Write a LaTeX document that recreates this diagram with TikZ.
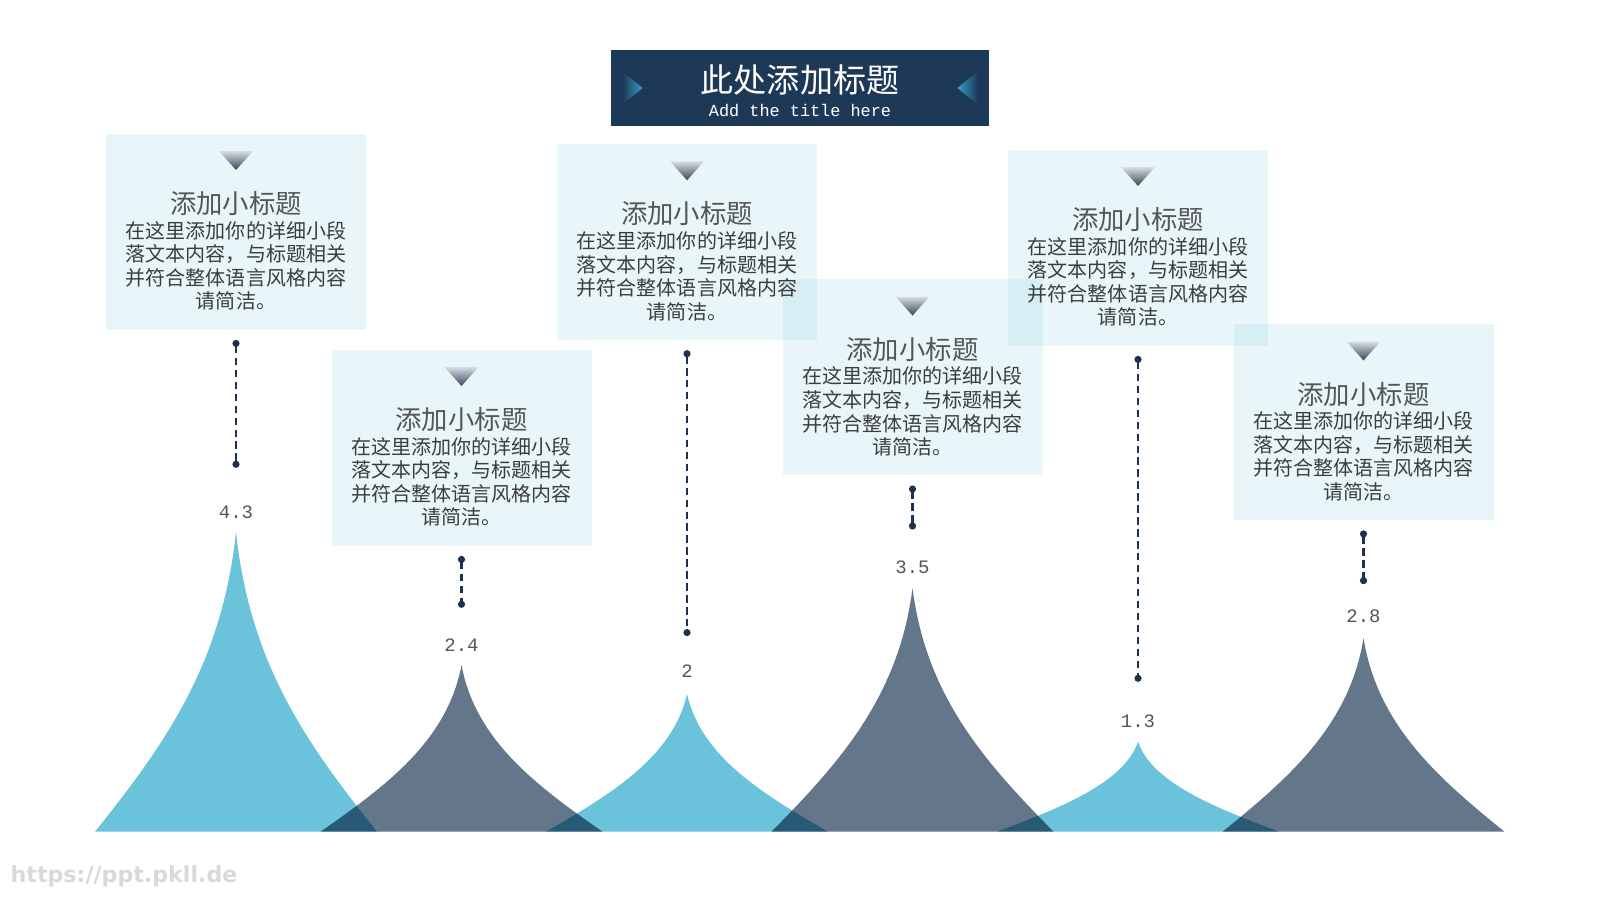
\documentclass[tikz,border=0pt]{standalone}
\usepackage{fontspec}
\setmonofont{Liberation Mono}
\newfontfamily\cjk{Noto Sans CJK SC}
\newfontfamily\webfont{DejaVu Sans}
\usetikzlibrary{arrows.meta,positioning,calc}
\definecolor{TitleNavy}{RGB}{30,57,88}
\definecolor{TitleTeal}{RGB}{52,160,200}
\definecolor{PeakBlue}{RGB}{106,195,218}
\definecolor{PeakSlate}{RGB}{100,118,138}
\definecolor{LinkNavy}{RGB}{30,50,78}
\definecolor{HeadGray}{RGB}{85,85,85}
\definecolor{BodyGray}{RGB}{60,60,60}
\definecolor{MarkDark}{RGB}{55,70,90}
\definecolor{MarkLight}{RGB}{215,222,228}

\begin{document}
\begin{tikzpicture}[>=Latex,
  card/.style={fill=PeakBlue,fill opacity=0.15,minimum width=2.6cm,minimum height=1.96cm,anchor=north,inner sep=0pt},
  cardhead/.style={text=HeadGray,font=\cjk\fontsize{7.5}{9}\selectfont,inner sep=0pt},
  cardbody/.style={text=BodyGray,font=\cjk\fontsize{5.7}{6.7}\selectfont,align=center,inner sep=0pt},
  value/.style={text=HeadGray,font=\ttfamily\fontsize{5.4}{6}\selectfont,inner sep=0pt},
  link/.style={LinkNavy,line width=0.6pt,dash pattern=on 2.1pt off 1.3pt,{Circle[length=2pt]}-{Circle[length=2pt]}},
  peak/.pic={\fill (-1.41,0) .. controls (-0.74,0.28) and (-0.14,0.55) .. (0,1) .. controls (0.14,0.55) and (0.74,0.28) .. (1.41,0) -- cycle;},
  marker/.pic={\shade[top color=MarkLight,bottom color=MarkDark] (-0.17,-0.18) -- (0.17,-0.18) -- (0,-0.37) -- cycle;}]
  \useasboundingbox (0,0) rectangle (16,9);

  % title bar
  \node[fill=TitleNavy,minimum width=3.78cm,minimum height=0.76cm,inner sep=0pt] (titlebar) at (8,8.12) {};
  \node[text=white,font=\cjk\fontsize{9.4}{11}\selectfont,inner sep=0pt] (maintitle) at (8,8.2) {此处添加标题};
  \node[text=white,font=\ttfamily\fontsize{4.8}{6}\selectfont,inner sep=0pt] (subtitle) at (8,7.893) {Add the title here};
  \shade[left color=TitleNavy,right color=TitleTeal] ($(titlebar.west)+(0.123,0.162)$) -- ($(titlebar.west)+(0.323,0)$) -- ($(titlebar.west)+(0.123,-0.162)$) -- cycle;
  \shade[right color=TitleNavy,left color=TitleTeal] ($(titlebar.east)+(-0.123,0.162)$) -- ($(titlebar.east)+(-0.323,0)$) -- ($(titlebar.east)+(-0.123,-0.162)$) -- cycle;

  % peaks
  \begin{scope}[blend mode=multiply]
    \pic[PeakBlue,yscale=3.00] at (2.36,0.683) {peak};
    \pic[PeakSlate,yscale=1.667] at (4.615,0.683) {peak};
    \pic[PeakBlue,yscale=1.377] at (6.87,0.683) {peak};
    \pic[PeakSlate,yscale=2.434] at (9.125,0.683) {peak};
    \pic[PeakBlue,yscale=0.90] at (11.38,0.683) {peak};
    \pic[PeakSlate,yscale=1.937] at (13.635,0.683) {peak};
  \end{scope}

  % values
  \node[value] (val1) at (2.36,3.873) {4.3};
  \node[value] (val2) at (4.615,2.55) {2.4};
  \node[value] (val3) at (6.87,2.286) {2};
  \node[value] (val4) at (9.125,3.327) {3.5};
  \node[value] (val5) at (11.38,1.783) {1.3};
  \node[value] (val6) at (13.635,2.837) {2.8};

  % cards
  \node[card] (card1) at (2.36,7.67) {};
  \node[card] (card2) at (4.615,5.51) {};
  \node[card] (card3) at (6.87,7.567) {};
  \node[card] (card4) at (9.125,6.214) {};
  \node[card] (card5) at (11.38,7.51) {};
  \node[card] (card6) at (13.635,5.765) {};

  \foreach \i in {1,...,6}{
    \pic at (card\i.north) {marker};
    \node[cardhead] (head\i) at ($(card\i.north)+(0,-0.705)$) {添加小标题};
    \node[cardbody] (body\i) at ($(card\i.north)+(0,-1.33)$) {在这里添加你的详细小段\\落文本内容，与标题相关\\并符合整体语言风格内容\\请简洁。};
  }

  % dashed links
  \coordinate (foot1) at (2.36,4.322);
  \coordinate (foot2) at (4.615,2.922);
  \coordinate (foot3) at (6.87,2.639);
  \coordinate (foot4) at (9.125,3.705);
  \coordinate (foot5) at (11.38,2.182);
  \coordinate (foot6) at (13.635,3.159);
  \foreach \i in {1,...,6}
    \draw[link] ([yshift=-0.95mm]card\i.south) -- (foot\i);

  \node[anchor=west,text=black!15,font=\webfont\bfseries\fontsize{6.3}{7}\selectfont,inner sep=0pt] (weblink) at (0.1,0.24) {https://ppt.pkll.de};
\end{tikzpicture}
\end{document}
